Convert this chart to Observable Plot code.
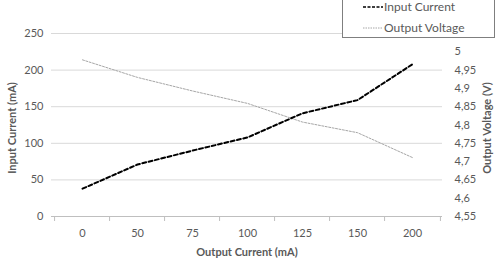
<!DOCTYPE html>
<html><head><meta charset="utf-8">
<script src="https://cdn.jsdelivr.net/npm/d3@7"></script>
<script src="https://cdn.jsdelivr.net/npm/@observablehq/plot@0.6"></script>
<style>
body{margin:0;background:#fff;font-family:Lato,"Open Sans",sans-serif;}
#wrap{position:relative;width:499px;height:258px;overflow:hidden;}
#legend{position:absolute;left:342px;top:-2px;width:151px;height:38px;border:1px solid #7f7f7f;background:#fff;font-size:12px;line-height:14px;color:#595959;}
#legend .row{position:absolute;left:20px;display:flex;align-items:center;}
#legend svg{margin-right:1px;}
</style></head><body>
<div id="wrap"><div id="chart"></div>
<div id="legend">
  <div class="row" style="top:1px"><svg width="20" height="10"><line x1="0" y1="5" x2="20" y2="5" stroke="#000" stroke-width="1.5" stroke-dasharray="3,1.5"/></svg><span id="l1"></span></div>
  <div class="row" style="top:22px"><svg width="20" height="10"><line x1="0" y1="5" x2="20" y2="5" stroke="#a6a6a6" stroke-width="1" stroke-dasharray="1.5,1"/></svg><span id="l2"></span></div>
</div></div>
<script>
const categories = ["0","50","75","100","125","150","200"];
const inputCurrent = [38, 71, 90, 108, 141, 159, 208];
const outputVoltage = [4.978, 4.930, 4.893, 4.859, 4.808, 4.779, 4.711];
const leftTicks = [0, 50, 100, 150, 200, 250];
const rightTicks = [4.55, 4.6, 4.65, 4.7, 4.75, 4.8, 4.85, 4.9, 4.95, 5];
const seriesNames = ["Input Current", "Output Voltage"];
const axisTitles = {x: "Output Current (mA)", yLeft: "Input Current (mA)", yRight: "Output Voltage (V)"};

document.getElementById("l1").textContent = seriesNames[0];
document.getElementById("l2").textContent = seriesNames[1];

const vMin = 4.55, vMax = 5.05, yMax = 250;
const toY = v => (v - vMin) / (vMax - vMin) * yMax;
const comma = v => String(+v.toFixed(2)).replace(".", ",");

const ic = categories.map((c, i) => ({c, v: inputCurrent[i]}));
const ov = categories.map((c, i) => ({c, v: toY(outputVoltage[i])}));

const W = 499, H = 258, mL = 51, mR = 57, mT = 33, mB = 42;
const step = (W - mL - mR) / categories.length;
const grey = "#595959";

const chart = Plot.plot({
  width: W, height: H,
  marginLeft: mL, marginRight: mR, marginTop: mT, marginBottom: mB,
  style: {fontFamily: "Lato, 'Open Sans', sans-serif", fontSize: "11px", color: grey, background: "#fff"},
  x: {type: "point", domain: categories, padding: 0.5},
  y: {domain: [0, yMax]},
  marks: [
    Plot.gridY(leftTicks, {stroke: "#d9d9d9", strokeOpacity: 1, strokeWidth: 1}),
    Plot.ruleY([0], {stroke: "#bfbfbf", strokeWidth: 1}),
    Plot.ruleX(categories, {x: d => d, y1: 0, y2: 0, insetBottom: -5, dx: -step/2, stroke: "#bfbfbf"}),
    Plot.ruleX(categories.slice(-1), {x: d => d, y1: 0, y2: 0, insetBottom: -5, dx: step/2, stroke: "#bfbfbf"}),
    Plot.axisX({tickSize: 0, tickPadding: 13, fontSize: 11, label: null, color: grey}),
    Plot.axisY(leftTicks, {anchor: "left", tickSize: 0, tickPadding: 8, label: null, color: grey, fontSize: 11}),
    Plot.axisY(rightTicks.map(toY), {anchor: "right", tickSize: 0, tickPadding: 12, label: null, color: grey, fontSize: 11,
      tickFormat: d => comma(vMin + d / yMax * (vMax - vMin))}),
    Plot.line(ov, {x: "c", y: "v", stroke: "#a6a6a6", strokeWidth: 1, strokeDasharray: "2,1.5"}),
    Plot.line(ic, {x: "c", y: "v", stroke: "#000", strokeWidth: 2, strokeDasharray: "4,2.5"}),
    Plot.text([axisTitles.x], {frameAnchor: "bottom", dy: 39, text: d => d, fontWeight: "bold", fontSize: 11, fill: grey}),
    Plot.text([axisTitles.yLeft], {frameAnchor: "left", textAnchor: "middle", dx: -39, dy: 3, rotate: -90, text: d => d, fontWeight: "bold", fontSize: 11, fill: grey}),
    Plot.text([axisTitles.yRight], {frameAnchor: "right", textAnchor: "middle", dx: 45, dy: 3, rotate: -90, text: d => d, fontWeight: "bold", fontSize: 11, fill: grey})
  ]
});
document.getElementById("chart").appendChild(chart);
</script></body></html>
